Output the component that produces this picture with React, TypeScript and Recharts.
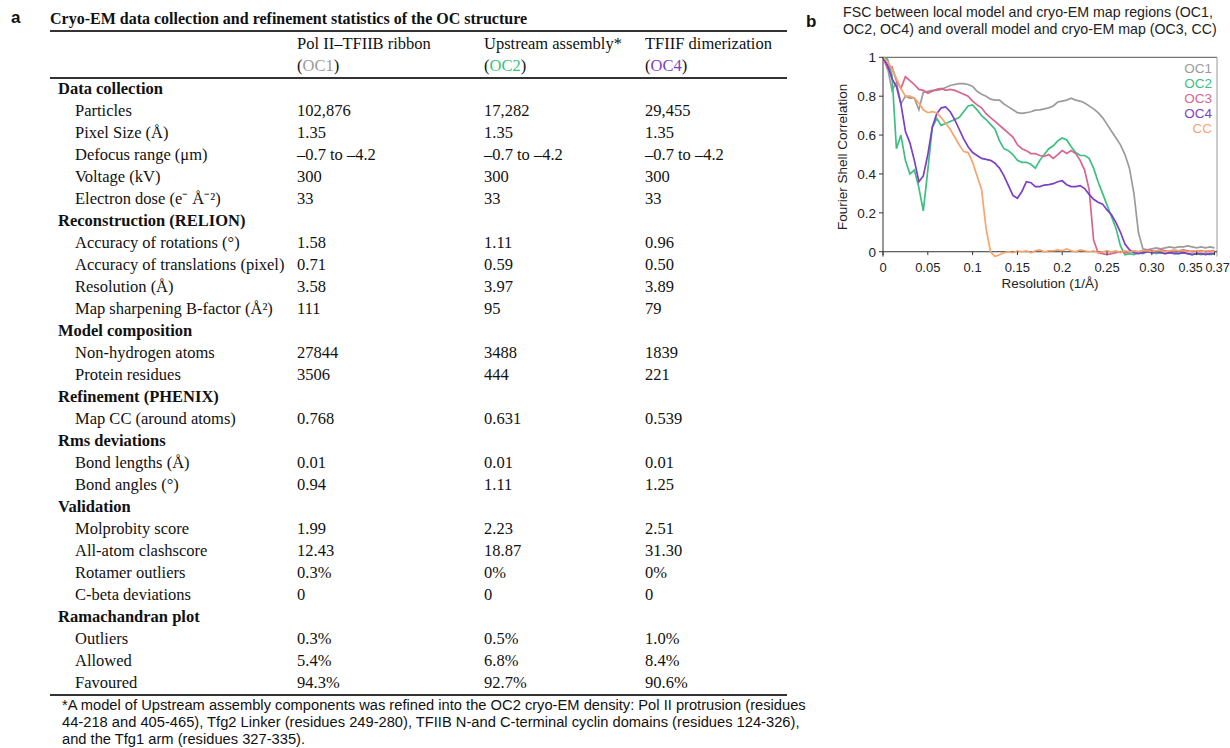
import React from 'react';
import { LineChart, Line, XAxis, YAxis, ReferenceLine, Label } from 'recharts';

// ---- panel b : FSC curves ----
const resolution = [
  0, 0.005, 0.01, 0.015, 0.02, 0.025, 0.03, 0.035, 0.04, 0.045,
  0.05, 0.055, 0.06, 0.065, 0.07, 0.075, 0.08, 0.085, 0.09, 0.095,
  0.1, 0.105, 0.11, 0.115, 0.12, 0.125, 0.13, 0.135, 0.14, 0.145,
  0.15, 0.155, 0.16, 0.165, 0.17, 0.175, 0.18, 0.185, 0.19, 0.195,
  0.2, 0.205, 0.21, 0.215, 0.22, 0.225, 0.23, 0.235, 0.24, 0.245,
  0.25, 0.255, 0.26, 0.265, 0.27, 0.275, 0.28, 0.285, 0.29, 0.295,
  0.3, 0.305, 0.31, 0.315, 0.32, 0.325, 0.33, 0.335, 0.34, 0.345,
  0.35, 0.355, 0.36, 0.365, 0.37,
];

const oc1 = [
  1, 0.95, 0.83, 0.87, 0.76, 0.8, 0.79, 0.79, 0.73, 0.82,
  0.825, 0.83, 0.83, 0.835, 0.845, 0.855, 0.86, 0.865, 0.865, 0.86,
  0.85, 0.825, 0.81, 0.8, 0.785, 0.78, 0.78, 0.76, 0.745, 0.73,
  0.715, 0.712, 0.715, 0.72, 0.728, 0.73, 0.735, 0.74, 0.75, 0.77,
  0.775, 0.78, 0.79, 0.78, 0.775, 0.765, 0.75, 0.735, 0.715, 0.69,
  0.655, 0.62, 0.585, 0.55, 0.5, 0.43, 0.3, 0.1, 0.015, 0.01,
  0.015, 0.02, 0.015, 0.02, 0.025, 0.02, 0.025, 0.025, 0.03, 0.025,
  0.02, 0.025, 0.02, 0.025, 0.02,
];

const oc2 = [
  1, 0.99, 0.91, 0.53, 0.6, 0.47, 0.4, 0.42, 0.33, 0.21,
  0.42, 0.64, 0.685, 0.65, 0.66, 0.67, 0.68, 0.69, 0.72, 0.75,
  0.755, 0.73, 0.7, 0.68, 0.655, 0.63, 0.57, 0.53, 0.52, 0.5,
  0.47, 0.46, 0.46, 0.45, 0.43, 0.47, 0.5, 0.53, 0.545, 0.57,
  0.585, 0.575, 0.54, 0.51, 0.495, 0.495, 0.48, 0.43, 0.36, 0.3,
  0.24, 0.18, 0.12, 0.03, -0.015, -0.01, -0.015, -0.005, -0.01, 0,
  -0.005, -0.01, -0.005, -0.01, -0.005, 0, -0.01, -0.005, -0.01, -0.015,
  -0.01, -0.015, -0.01, -0.015, -0.01,
];

const oc3 = [
  1, 0.94, 0.95, 0.88, 0.84, 0.9, 0.88, 0.86, 0.835, 0.83,
  0.815, 0.825, 0.835, 0.84, 0.83, 0.835, 0.83, 0.82, 0.81, 0.8,
  0.775, 0.755, 0.74, 0.71, 0.69, 0.67, 0.65, 0.63, 0.61, 0.59,
  0.55, 0.53, 0.52, 0.505, 0.505, 0.495, 0.49, 0.5, 0.48, 0.5,
  0.52, 0.505, 0.52, 0.505, 0.47, 0.42, 0.32, 0.06, -0.005, -0.01,
  -0.015, -0.01, -0.005, 0, -0.005, 0, 0.005, 0, 0.005, 0.01,
  0.005, 0.005, 0.01, 0.005, 0, 0.005, 0.005, 0.01, 0.005, 0,
  0.005, 0.005, 0, 0.005, 0.005,
];

const oc4 = [
  1, 0.96, 0.89, 0.85, 0.76, 0.62, 0.56, 0.47, 0.36, 0.39,
  0.5, 0.64, 0.71, 0.74, 0.745, 0.72, 0.68, 0.63, 0.58, 0.54,
  0.51, 0.495, 0.48, 0.475, 0.47, 0.455, 0.43, 0.39, 0.34, 0.29,
  0.275, 0.31, 0.36, 0.355, 0.335, 0.335, 0.343, 0.345, 0.35, 0.36,
  0.365, 0.345, 0.335, 0.335, 0.34, 0.325, 0.295, 0.27, 0.255, 0.245,
  0.215, 0.19, 0.15, 0.1, 0.04, 0.01, -0.005, -0.01, -0.005, 0,
  -0.005, 0, -0.005, -0.01, -0.005, -0.01, -0.01, -0.005, -0.01, -0.015,
  -0.01, -0.01, -0.015, -0.01, -0.01,
];

const cc = [
  1, 0.98, 0.94, 0.89, 0.84, 0.8, 0.8, 0.79, 0.765, 0.73,
  0.715, 0.72, 0.715, 0.69, 0.66, 0.63, 0.59, 0.55, 0.515, 0.51,
  0.46, 0.39, 0.32, 0.12, 0, -0.025, -0.015, -0.005, 0, -0.005,
  0.005, 0, 0.005, -0.005, 0.005, 0.01, 0, 0.005, 0.005, 0.01,
  0.005, 0.015, 0.005, 0, 0.01, 0.005, 0, 0.005, -0.005, 0,
  0.005, 0, 0.005, -0.005, 0.005, 0, 0.005, 0, 0.005, 0.005,
  0, 0.005, 0.005, 0, 0.005, 0.01, 0.005, 0.005, 0, 0.005,
  0.005, 0, 0.005, 0.005, 0,
];

const seriesNames = ['OC1', 'OC2', 'OC3', 'OC4', 'CC'];
const seriesColors = ['#9b9b9b', '#3dbf80', '#d9648f', '#7c3fc6', '#f7a46d'];

const xTicks = [0, 0.05, 0.1, 0.15, 0.2, 0.25, 0.3, 0.35, 0.37];
const xTickLabels = ['0', '0.05', '0.1', '0.15', '0.2', '0.25', '0.30', '0.35', '0.37'];
const yTicks = [0, 0.2, 0.4, 0.6, 0.8, 1];
const yTickLabels = ['0', '0.2', '0.4', '0.6', '0.8', '1'];

// ---- panel a : statistics table ----
const columnHeads = ['Pol II–TFIIB ribbon', 'Upstream assembly*', 'TFIIF dimerization'];
const columnTags = ['OC1', 'OC2', 'OC4'];
const columnTagColors = ['#9b9b9b', '#3dbf80', '#7c3fc6'];

const tableRows: string[][] = [
  ['Data collection'],
  ['Particles', '102,876', '17,282', '29,455'],
  ['Pixel Size (Å)', '1.35', '1.35', '1.35'],
  ['Defocus range (μm)', '–0.7 to –4.2', '–0.7 to –4.2', '–0.7 to –4.2'],
  ['Voltage (kV)', '300', '300', '300'],
  ['Electron dose (e⁻ Å⁻²)', '33', '33', '33'],
  ['Reconstruction (RELION)'],
  ['Accuracy of rotations (°)', '1.58', '1.11', '0.96'],
  ['Accuracy of translations (pixel)', '0.71', '0.59', '0.50'],
  ['Resolution (Å)', '3.58', '3.97', '3.89'],
  ['Map sharpening B-factor (Å²)', '111', '95', '79'],
  ['Model composition'],
  ['Non-hydrogen atoms', '27844', '3488', '1839'],
  ['Protein residues', '3506', '444', '221'],
  ['Refinement (PHENIX)'],
  ['Map CC (around atoms)', '0.768', '0.631', '0.539'],
  ['Rms deviations'],
  ['Bond lengths (Å)', '0.01', '0.01', '0.01'],
  ['Bond angles (°)', '0.94', '1.11', '1.25'],
  ['Validation'],
  ['Molprobity score', '1.99', '2.23', '2.51'],
  ['All-atom clashscore', '12.43', '18.87', '31.30'],
  ['Rotamer outliers', '0.3%', '0%', '0%'],
  ['C-beta deviations', '0', '0', '0'],
  ['Ramachandran plot'],
  ['Outliers', '0.3%', '0.5%', '1.0%'],
  ['Allowed', '5.4%', '6.8%', '8.4%'],
  ['Favoured', '94.3%', '92.7%', '90.6%'],
];

const footnoteLines = [
  '*A model of Upstream assembly components was refined into the OC2 cryo-EM density: Pol II protrusion (residues',
  '44-218 and 405-465), Tfg2 Linker (residues 249-280), TFIIB N-and C-terminal cyclin domains (residues 124-326),',
  'and the Tfg1 arm (residues 327-335).',
];

const SERIF = '"Liberation Serif", "Times New Roman", serif';
const SANS = '"Liberation Sans", Arial, sans-serif';
const colX = [297, 484, 645];

const XTick = (props: any) => {
  const { x, y, payload } = props;
  const i = xTicks.indexOf(payload.value);
  // last two labels sit very close together, nudge them apart
  const shift = payload.value === 0.35 ? -6 : payload.value === 0.37 ? 3 : 0;
  const small = payload.value >= 0.35;
  return (
    <g>
      <line x1={x} x2={x} y1={y - 5} y2={y - 1.5} stroke="#333" />
      <text x={x + shift} y={y + 15} textAnchor="middle" fontSize={small ? 12.5 : 13} fill="#222" fontFamily={SANS}>
        {xTickLabels[i]}
      </text>
    </g>
  );
};

const rule = (top: number, h = 1.5) => (
  <div style={{ position: 'absolute', left: 50, top, width: 737, height: h, background: '#333' }} />
);

export default function App() {
  const data = resolution.map((r, i) => ({ res: r, OC1: oc1[i], OC2: oc2[i], OC3: oc3[i], OC4: oc4[i], CC: cc[i] }));

  return (
    <div style={{ position: 'absolute', left: 0, top: 0, width: 1230, height: 748, background: '#fff', color: '#111', fontFamily: SERIF, overflow: 'hidden' }}>
      {/* panel a */}
      <div style={{ position: 'absolute', left: 11, top: 8, fontFamily: SANS, fontWeight: 700, fontSize: 17 }}>a</div>
      <div style={{ position: 'absolute', left: 50, top: 9, fontWeight: 700, fontSize: 16, lineHeight: '20px', whiteSpace: 'nowrap' }}>
        Cryo-EM data collection and refinement statistics of the OC structure
      </div>
      {rule(30)}
      {columnHeads.map((h, j) => (
        <div key={h} style={{ position: 'absolute', left: colX[j], top: 33, fontSize: 16.5, lineHeight: '22px', whiteSpace: 'nowrap' }}>
          {h}
          <br />(<span style={{ color: columnTagColors[j] }}>{columnTags[j]}</span>)
        </div>
      ))}
      {rule(77)}
      {tableRows.map((row, i) => (
        <div key={i} style={{ position: 'absolute', left: 0, top: 78 + i * 22, height: 22, width: 800, fontSize: 16.5, lineHeight: '22px', whiteSpace: 'nowrap' }}>
          <span style={{ position: 'absolute', left: row.length === 1 ? 58 : 75, fontWeight: row.length === 1 ? 700 : 400 }}>{row[0]}</span>
          {row.slice(1).map((v, j) => (
            <span key={j} style={{ position: 'absolute', left: colX[j] }}>{v}</span>
          ))}
        </div>
      ))}
      {rule(694)}
      {footnoteLines.map((l, i) => (
        <div key={i} style={{ position: 'absolute', left: 62, top: 697 + i * 17, fontFamily: SANS, fontSize: 14.7, lineHeight: '17px', whiteSpace: 'nowrap' }}>
          {l}
        </div>
      ))}

      {/* panel b */}
      <div style={{ position: 'absolute', left: 806, top: 12, fontFamily: SANS, fontWeight: 700, fontSize: 17 }}>b</div>
      <div style={{ position: 'absolute', left: 843, top: 4, fontFamily: SANS, fontSize: 14.2, lineHeight: '17px', color: '#222', whiteSpace: 'nowrap' }}>
        FSC between local model and cryo-EM map regions (OC1,
        <br />
        OC2, OC4) and overall model and cryo-EM map (OC3, CC)
      </div>
      <div style={{ position: 'absolute', left: 830, top: 40 }}>
        <LineChart width={400} height={260} data={data} margin={{ top: 17.3, right: 13, bottom: 7.4, left: 0 }}>
          <XAxis
            dataKey="res"
            type="number"
            domain={[0, 0.3727]}
            ticks={xTicks}
            interval={0}
            axisLine={false}
            tickLine={false}
            tickSize={0}
            tickMargin={0}
            height={36}
            tick={(p: any) => <XTick {...p} />}
          >
            <Label value="Resolution (1/Å)" position="insideBottom" offset={5} fontSize={13.5} fill="#222" fontFamily={SANS} />
          </XAxis>
          <YAxis
            type="number"
            domain={[-0.025, 1]}
            ticks={yTicks}
            interval={0}
            width={53}
            axisLine={{ stroke: '#333' }}
            tickLine={{ stroke: '#333' }}
            tickSize={4}
            tickMargin={3}
            tickFormatter={(v: number) => yTickLabels[yTicks.indexOf(v)]}
            tick={{ fontSize: 13.5, fill: '#222', fontFamily: SANS }}
          >
            <Label
              value="Fourier Shell Correlation"
              angle={-90}
              position="insideLeft"
              offset={12}
              fontSize={13.5}
              fill="#222"
              fontFamily={SANS}
              style={{ textAnchor: 'middle' }}
            />
          </YAxis>
          <ReferenceLine y={1} stroke="#555" />
          <ReferenceLine x={0.3727} stroke="#999" />
          <ReferenceLine y={0} stroke="#333" />
          {seriesNames.map((name, k) => (
            <Line
              key={name}
              dataKey={name}
              type="linear"
              stroke={seriesColors[k]}
              strokeWidth={1.7}
              dot={false}
              isAnimationActive={false}
            />
          ))}
        </LineChart>
        <div style={{ position: 'absolute', right: 18, top: 21, textAlign: 'right', fontFamily: SANS, fontSize: 13.5, lineHeight: '15px' }}>
          {seriesNames.map((name, k) => (
            <div key={name} style={{ color: seriesColors[k] }}>{name}</div>
          ))}
        </div>
      </div>
    </div>
  );
}
